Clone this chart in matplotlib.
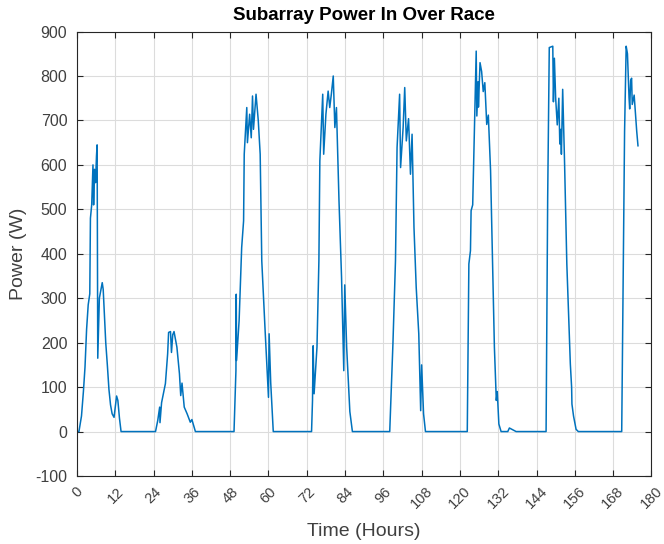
import matplotlib.pyplot as plt
import numpy as np

plt.rcParams['font.family'] = ['Liberation Sans', 'DejaVu Sans']
plt.rcParams['axes.unicode_minus'] = False

# hours since race start, subarray power in watts
hours = [0, 0.6, 1.4, 2.0, 2.5, 3.0, 3.5, 4.0, 4.2, 4.6, 5.0, 5.2, 5.5, 5.8, 6.1, 6.3,
         6.5, 7.0, 7.5, 7.9, 8.2, 8.6, 9.0, 9.5, 10.0, 10.5, 11.0, 11.6, 12.0, 12.4,
         12.8, 13.3, 13.8,
         24.6, 25.3, 25.9, 26.0, 26.5, 27.7, 28.4, 28.7, 29.3, 29.6, 30.0, 30.4, 31.3,
         32.1, 32.5, 32.9, 33.6, 34.5, 35.5, 36.0, 37.1,
         49.2, 49.8, 49.9, 50.0, 50.8, 51.6, 52.2, 52.4, 53.2, 53.4, 54.1, 54.6, 55.0,
         55.3, 56.1, 56.8, 57.4, 57.9, 58.9, 60.0, 60.2, 60.7, 61.5,
         73.5, 73.8, 74.0, 74.3, 75.2, 75.8, 76.1, 77.0, 77.3, 78.0, 78.7, 79.2, 79.7,
         80.3, 80.8, 81.3, 82.1, 82.9, 83.6, 83.9, 84.5, 85.5, 86.3,
         98.0, 99.0, 99.8, 100.3, 101.1, 101.4, 102.2, 102.7, 103.2, 103.9, 104.5,
         105.0, 105.6, 106.3, 107.1, 107.7, 108.0, 108.6, 109.2,
         122.3, 122.8, 123.3, 123.5, 124.0, 124.6, 124.9, 125.1, 125.3, 125.7, 125.8,
         126.3, 126.8, 127.3, 127.8, 128.4, 128.9, 129.6, 130.8, 131.2, 131.4, 131.7,
         132.2, 132.9, 135.0, 135.5, 137.6,
         147.0, 147.5, 148.0, 149.1, 149.3, 149.6, 150.0, 150.5, 151.0, 151.3, 151.6,
         151.8, 152.2, 152.8, 153.5, 154.6, 155.0, 155.1, 155.6, 156.4, 157.1,
         170.7, 171.2, 171.6, 172.1, 172.5, 173.0, 173.2, 173.5, 173.8, 174.0, 174.6,
         175.1, 175.4, 175.8]
power = [0, 0, 35, 90, 145, 230, 285, 310, 480, 510, 600, 510, 590, 560, 620, 645,
         165, 300, 320, 335, 320, 260, 200, 150, 95, 60, 40, 32, 55, 80,
         70, 30, 0,
         0, 25, 55, 20, 65, 108, 175, 223, 225, 178, 218, 225, 190,
         130, 81, 109, 55, 40, 21, 27, 0,
         0, 137, 309, 160, 250, 414, 474, 624, 729, 650, 714, 661, 755,
         680, 759, 700, 624, 384, 234, 77, 220, 110, 0,
         0, 70, 193, 85, 190, 384, 609, 759, 624, 714, 766, 729, 759,
         800, 684, 729, 519, 347, 137, 330, 190, 45, 0,
         0, 197, 384, 639, 759, 594, 684, 774, 654, 704, 579,
         669, 459, 324, 220, 47, 150, 40, 0,
         0, 377, 407, 497, 510, 699, 804, 856, 710, 787, 730,
         830, 810, 765, 785, 691, 712, 587, 190, 110, 70, 90,
         17, 0, 0, 8, 0,
         0, 527, 864, 867, 742, 840, 750, 690, 750, 647, 680,
         624, 770, 602, 377, 152, 100, 62, 35, 5, 0,
         0, 377, 676, 867, 850, 751, 726, 790, 795, 736, 757,
         705, 676, 643]

x_ticks = list(range(0, 181, 12))
y_ticks = list(range(-100, 901, 100))

fig = plt.figure(figsize=(6.64, 5.44), dpi=100)
ax = fig.add_axes([0.116, 0.125, 0.865, 0.817])

ax.plot(hours, power, color='#0072BD', linewidth=1.1)

ax.set_xlim(0, 180)
ax.set_ylim(-100, 900)
ax.set_xticks(x_ticks)
ax.set_yticks(y_ticks)
ax.set_xticklabels([str(v) for v in x_ticks], rotation=45, ha='center', va='top')
ax.tick_params(direction='in', top=True, right=True, labelsize=11.5, colors='#262626',
               labelcolor='#404040', length=4, width=0.8)
ax.tick_params(axis='y', pad=7)
ax.tick_params(axis='x', pad=6, labelsize=10.5)
ax.grid(True, color='#dcdcdc', linewidth=0.8)
ax.set_axisbelow(True)
for s in ax.spines.values():
    s.set_color('#262626')
    s.set_linewidth(0.8)

ax.set_title('Subarray Power In Over Race', fontsize=13.5, fontweight='bold', pad=8)
ax.set_xlabel('Time (Hours)', fontsize=14, color='#404040', labelpad=8)
ax.set_ylabel('Power (W)', fontsize=14, color='#404040', labelpad=6)

fig.savefig('out.png', dpi=100)
